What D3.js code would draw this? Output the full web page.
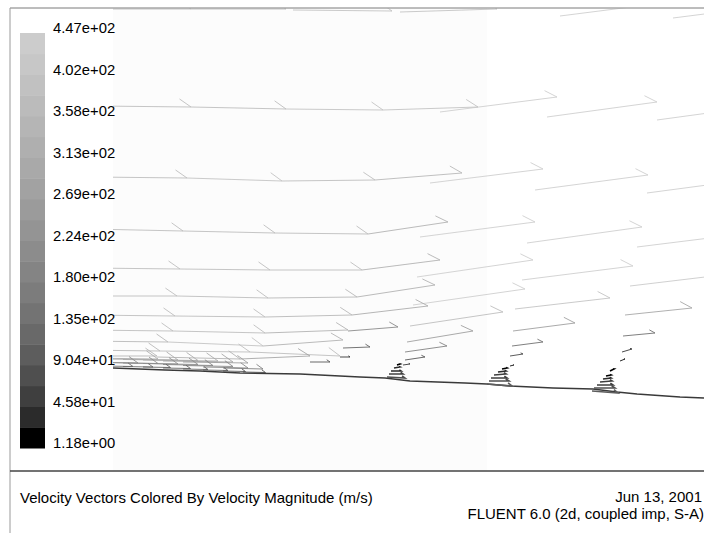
<!DOCTYPE html>
<html>
<head>
<meta charset="utf-8">
<script src="https://cdn.jsdelivr.net/npm/d3@7"></script>
<style>
  body { margin: 0; background: #fff; }
  svg { display: block; font-family: 'Liberation Sans', Arial, sans-serif; }
</style>
</head>
<body>
<svg id="chart"></svg>
<script>
// Colour map (velocity magnitude, m/s), bottom to top
const levelLabels = ['1.18e+00', '4.58e+01', '9.04e+01', '1.35e+02', '1.80e+02', '2.24e+02',
  '2.69e+02', '3.13e+02', '3.58e+02', '4.02e+02', '4.47e+02'];
const bandGrays = ['#000000', '#2b2b2b', '#3f3f3f', '#4f4f4f', '#5d5d5d', '#696969', '#737373',
  '#7c7c7c', '#848484', '#8c8c8c', '#949494', '#9b9b9b', '#a2a2a2', '#a9a9a9', '#afafaf',
  '#b5b5b5', '#bbbbbb', '#c1c1c1', '#c7c7c7', '#cccccc'];
const speedMin = 1.18;
const speedMax = 447;

// Wall profile [x mm, y mm]
const wallProfile = [[0, 0], [5.2, -0.2], [8.7, -0.3], [12.7, -0.5], [18.7, -0.6], [24.7, -0.9],
  [27.2, -1.0], [29.7, -1.3], [35.2, -1.5], [37.4, -1.6], [39.7, -1.8], [44.0, -2.0],
  [48.0, -2.1], [50.4, -2.4], [52.4, -2.6], [56.7, -2.9], [59.1, -3.0]];

// Vectors [x mm, y mm, u m/s, v m/s]
const outerVectors = [
  // top row
  [-1.7, 35.9, 380, 0], [7.8, 35.9, 380, 0], [18.0, 35.8, 396, -4], [28.7, 35.6, 388, 12],
  [44.7, 35.2, 440, 56], [56.0, 35.0, 440, 56],
  [-1.7, 26.2, 380, -4], [7.8, 26.1, 380, -8], [17.3, 25.9, 388, -4], [27.0, 25.8, 380, 12],
  [32.7, 25.6, 468, 60], [43.4, 25.1, 440, 60], [54.4, 24.8, 440, 60],
  [-2.1, 19.1, 380, -4], [7.4, 19.0, 380, -12], [16.9, 18.7, 372, 4], [26.2, 18.8, 348, 28],
  [31.7, 18.5, 452, 56], [42.2, 17.8, 452, 60], [53.4, 17.5, 452, 60],
  [-2.3, 13.9, 372, -8], [7.0, 13.7, 368, -8], [16.2, 13.5, 372, -4], [25.5, 13.4, 320, 48],
  [30.7, 13.1, 460, 60], [41.4, 12.5, 460, 64], [52.4, 12.1, 452, 56],
  [-2.5, 10.0, 368, -4], [6.7, 9.9, 360, -4], [15.7, 9.8, 368, 0], [24.9, 9.8, 312, 40],
  [30.4, 9.1, 464, 68], [40.9, 8.8, 444, 56], [51.7, 8.2, 400, 48]
];
const innerVectors = [
  [-2.7, 7.2, 364, 0], [6.4, 7.2, 364, -8], [15.5, 7.0, 356, 4], [24.4, 7.1, 312, 48],
  [30.0, 6.3, 448, 64], [40.2, 5.9, 380, 44], [51.2, 5.3, 268, 28],
  [-2.8, 5.3, 360, -4], [6.2, 5.2, 360, -4], [15.2, 5.1, 348, 8], [23.9, 5.3, 304, 36],
  [29.7, 4.2, 372, 56], [40.0, 3.7, 248, 32], [51.0, 3.2, 128, 12],
  [-3.0, 3.8, 360, -4], [6.0, 3.7, 368, -8], [15.2, 3.5, 332, 12], [23.5, 3.7, 200, 16],
  [29.4, 2.6, 264, 44], [39.9, 2.2, 124, 16], [50.9, 1.6, 40, 12],
  [-3.3, 2.7, 352, -4], [5.5, 2.6, 380, -16], [15.0, 2.2, 320, 24], [23.0, 2.0, 108, 4],
  [29.2, 1.6, 168, 24], [39.7, 1.2, 52, 8], [50.7, 0.7, 20, 8],
  [-3.8, 1.8, 340, -4], [4.7, 1.7, 360, -4], [13.7, 1.6, 360, -16], [22.7, 1.1, 40, 0],
  [29.2, 0.8, 80, 12], [39.7, 0.2, 16, 4],
  [-4.3, 1.2, 348, 0], [4.4, 1.1, 332, -8], [12.7, 0.9, 280, 12], [19.7, 0.6, 80, 0],
  [29.0, 0.3, 28, 4]
];
const boundaryVectors = [
  [-3.0, 1.0, 300, -4], [-1.0, 0.9, 300, -4], [1.0, 0.85, 300, -4], [3.0, 0.8, 300, -4],
  [5.0, 0.7, 280, -4], [7.0, 0.6, 260, -4],
  [-3.0, 0.6, 220, -4], [-1.0, 0.55, 220, -4], [1.0, 0.5, 220, -4], [3.0, 0.45, 220, -4],
  [5.0, 0.35, 200, -4], [7.0, 0.25, 200, -4], [9.0, 0.1, 180, -4], [11.0, 0.0, 160, -4],
  [-3.0, 0.25, 120, -2], [-1.0, 0.2, 120, -2], [1.0, 0.15, 120, -2], [3.0, 0.1, 110, -2],
  [5.0, 0.0, 110, -2], [7.0, -0.1, 100, -2], [9.0, -0.2, 100, -2], [11.0, -0.3, 90, -2],
  [13.0, -0.4, 90, -2]
];
const generatorVectors = [
  [27.4, -0.9, 72, -4], [27.6, -0.6, 56, 0], [27.8, -0.3, 40, 0], [28.1, 0.0, 24, 4], [28.4, 0.3, 12, 4],
  [37.4, -1.6, 100, -8], [37.6, -1.3, 80, 0], [37.8, -1.0, 64, 0], [38.1, -0.7, 48, 4],
  [38.5, -0.4, 32, 4], [38.9, -0.1, 20, 4],
  [47.9, -2.3, 104, -8], [48.1, -2.0, 84, 0], [48.4, -1.7, 64, 0], [48.7, -1.4, 48, 4],
  [49.0, -1.1, 32, 4], [49.3, -0.8, 20, 4], [49.7, -0.3, 16, 8]
];

const captionText = 'Velocity Vectors Colored By Velocity Magnitude (m/s)';
const dateText = 'Jun 13, 2001';
const solverText = 'FLUENT 6.0 (2d, coupled imp, S-A)';

let containerWidth = 704,
    containerHeight = 533;

let svg = d3.select('#chart')
  .attr('width', containerWidth)
  .attr('height', containerHeight);

let frame = { left: 10, top: 8, split: 471 };
let plot = { left: 113, right: 704, top: 8, bottom: 471 };

// SCALES
let x = d3.scaleLinear()
  .domain([0, 60])
  .range([113, 713]);

let y = d3.scaleLinear()
  .domain([0, 36])
  .range([368, 8]);

let color = d3.scaleQuantize()
  .domain([speedMin, speedMax])
  .range(bandGrays);

let vectorScale = 0.025; // mm per (m/s)

// Background
svg.append('rect')
  .attr('x', 0).attr('y', 0)
  .attr('width', containerWidth).attr('height', containerHeight)
  .attr('fill', '#ffffff');

svg.append('rect')
  .attr('x', plot.left).attr('y', plot.top)
  .attr('width', 487 - plot.left).attr('height', plot.bottom - plot.top)
  .attr('fill', '#fcfcfc');

svg.append('clipPath')
  .attr('id', 'plot-clip')
  .append('rect')
  .attr('x', plot.left).attr('y', plot.top + 0.5)
  .attr('width', plot.right - plot.left).attr('height', plot.bottom - plot.top - 1);

let field = svg.append('g')
  .attr('class', 'vector-field')
  .attr('clip-path', 'url(#plot-clip)');

// Vectors
function vectorPath(d) {
  let x0 = x(d[0]),
      y0 = y(d[1]),
      x1 = x(d[0] + d[2] * vectorScale),
      y1 = y(d[1] + d[3] * vectorScale);
  let a = Math.atan2(y1 - y0, x1 - x0);
  let len = Math.hypot(x1 - x0, y1 - y0);
  let h = Math.min(14, len * 0.2);
  let bx = x1 + h * Math.cos(a + Math.PI + 0.6),
      by = y1 + h * Math.sin(a + Math.PI + 0.6);
  return `M${x0},${y0}L${x1},${y1}L${bx},${by}`;
}

function speed(d) {
  return Math.hypot(d[2], d[3]);
}

let allVectors = outerVectors.concat(innerVectors, boundaryVectors)
  .sort((a, b) => speed(b) - speed(a));

field.append('g')
  .attr('class', 'vectors')
  .selectAll('path')
  .data(allVectors)
  .enter().append('path')
    .attr('fill', 'none')
    .attr('stroke', (d) => color(speed(d)))
    .attr('stroke-width', 0.85)
    .attr('d', vectorPath);

// Wall
field.append('path')
  .datum(wallProfile)
  .attr('fill', 'none')
  .attr('stroke', '#3a3a3a')
  .attr('stroke-width', 1.6)
  .attr('d', d3.line().x((d) => x(d[0])).y((d) => y(d[1])));

field.append('g')
  .attr('class', 'generator-vectors')
  .selectAll('path')
  .data(generatorVectors)
  .enter().append('path')
    .attr('fill', 'none')
    .attr('stroke', (d) => color(speed(d)))
    .attr('stroke-width', 1.6)
    .attr('d', vectorPath);

// Legend
let bandY = d3.scaleLinear()
  .domain([0, bandGrays.length])
  .range([448, 33]);

let legend = svg.append('g')
  .attr('class', 'legend');

legend.selectAll('rect')
  .data(bandGrays)
  .enter().append('rect')
    .attr('x', 20)
    .attr('width', 25)
    .attr('y', (d, i) => bandY(i + 1))
    .attr('height', (d, i) => bandY(i) - bandY(i + 1) + 0.5)
    .attr('fill', (d) => d);

legend.selectAll('text')
  .data(levelLabels)
  .enter().append('text')
    .attr('x', 53)
    .attr('y', (d, i) => bandY(i * 2))
    .attr('font-size', 14.8)
    .attr('fill', '#000')
    .text((d) => d);

// Frame
svg.append('line')
  .attr('x1', frame.left).attr('x2', containerWidth)
  .attr('y1', frame.top).attr('y2', frame.top)
  .attr('stroke', '#7a7a7a');

svg.append('line')
  .attr('x1', frame.left).attr('x2', frame.left)
  .attr('y1', frame.top).attr('y2', containerHeight)
  .attr('stroke', '#9a9a9a');

svg.append('line')
  .attr('x1', frame.left).attr('x2', containerWidth)
  .attr('y1', frame.split).attr('y2', frame.split)
  .attr('stroke', '#444')
  .attr('stroke-width', 1.5);

// Title block
svg.append('text')
  .attr('x', 20).attr('y', 503)
  .attr('font-size', 15)
  .text(captionText);

svg.append('text')
  .attr('x', 702).attr('y', 502)
  .attr('text-anchor', 'end')
  .attr('font-size', 15)
  .text(dateText);

svg.append('text')
  .attr('x', 704).attr('y', 519)
  .attr('text-anchor', 'end')
  .attr('font-size', 15)
  .text(solverText);
</script>
</body>
</html>
